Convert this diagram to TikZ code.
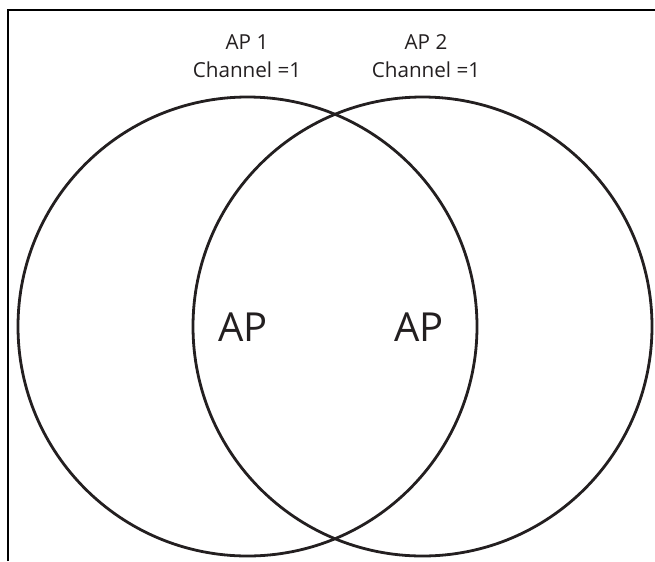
\documentclass[tikz,border=0pt]{standalone}
\usepackage{fontspec}
\setmainfont{Open Sans}
\definecolor{ink}{HTML}{231F20}
\begin{document}
\begin{tikzpicture}[x=0.75pt,y=-0.75pt,
  framestyle/.style={line width=1.6pt,black},
  circstyle/.style={line width=2.1pt,draw=ink},
  lbl/.style={text=ink,font=\fontsize{15.5}{21}\selectfont,align=center,inner sep=0pt},
  big/.style={text=ink,font=\fontsize{30}{36}\selectfont,inner sep=0pt}]
\useasboundingbox (0,0) rectangle (655,561);
\coordinate (fl) at (8,561);
\coordinate (fc) at (8,10);
\coordinate (fr) at (655,10);
\draw[framestyle] (fl) -- (fc) -- (fr);
\coordinate (c1) at (247.5,326.5);
\coordinate (c2) at (422.5,326.5);
\draw[circstyle] (c1) circle[radius=229.5];
\draw[circstyle] (c2) circle[radius=229.5];
\node[lbl] (t1) at (247,56) {AP 1\\Channel =1};
\node[lbl] (t2) at (426,56) {AP 2\\Channel =1};
\node[big] (a1) at (243,327) {AP};
\node[big] (a2) at (419,327) {AP};
\end{tikzpicture}
\end{document}
